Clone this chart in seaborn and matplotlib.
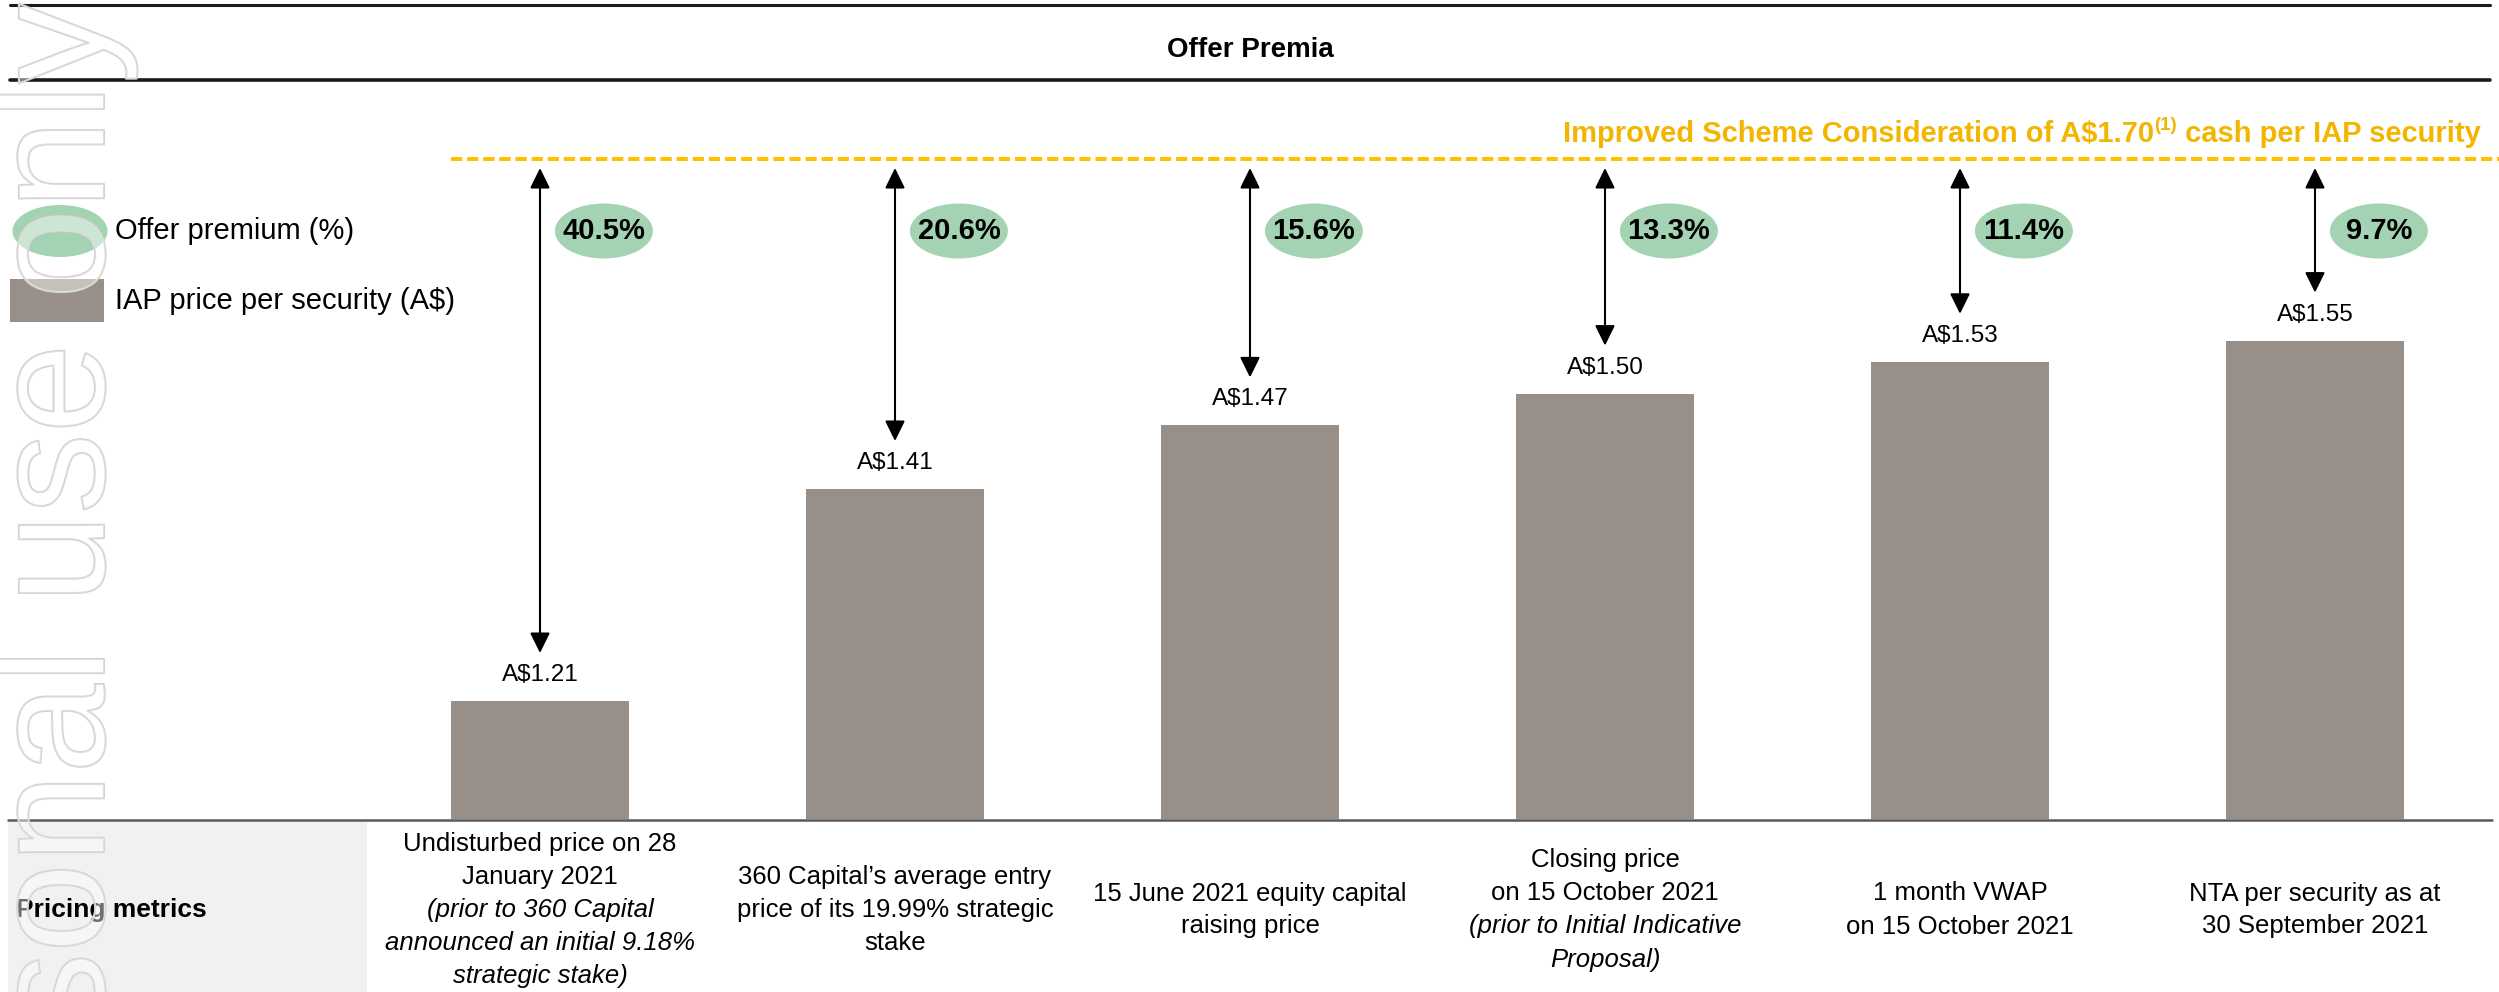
import matplotlib
matplotlib.use("Agg")
import matplotlib.pyplot as plt
import matplotlib.transforms as mtransforms
import matplotlib.patheffects as pe
from matplotlib.patches import Ellipse, Rectangle, FancyArrowPatch
from matplotlib.lines import Line2D
import seaborn as sns
import pandas as pd

# ---------------- data ----------------
metric_ids = ["undisturbed", "360_entry", "cap_raise", "closing", "vwap", "nta"]
prices = [1.21, 1.41, 1.47, 1.50, 1.53, 1.55]
price_labels = ["A$1.21", "A$1.41", "A$1.47", "A$1.50", "A$1.53", "A$1.55"]
premia_labels = ["40.5%", "20.6%", "15.6%", "13.3%", "11.4%", "9.7%"]
metric_text = [
    [("Undisturbed price on 28", "normal"), ("January 2021", "normal"),
     ("(prior to 360 Capital", "italic"), ("announced an initial 9.18%", "italic"),
     ("strategic stake)", "italic")],
    [("360 Capital\u2019s average entry", "normal"), ("price of its 19.99% strategic", "normal"),
     ("stake", "normal")],
    [("15 June 2021 equity capital", "normal"), ("raising price", "normal")],
    [("Closing price", "normal"), ("on 15 October 2021", "normal"),
     ("(prior to Initial Indicative", "italic"), ("Proposal)", "italic")],
    [("1 month VWAP", "normal"), ("on 15 October 2021", "normal")],
    [("NTA per security as at", "normal"), ("30 September 2021", "normal")],
]
title_text = "Offer Premia"
offer_main = "Improved Scheme Consideration of A$1.70"
offer_sup = "(1)"
offer_tail = " cash per IAP security"
legend_labels = ["Offer premium (%)", "IAP price per security (A$)"]
row_header = "Pricing metrics"
watermark = "For personal use only"

# ---------------- style ----------------
W, H, DPI = 2499, 992, 100
BAR = "#978F88"
GREEN = "#A3D3B2"
GOLD_LINE = "#FFC000"
GOLD_TEXT = "#F2B500"
PT = 72.0 / DPI  # px -> pt

sns.set_theme(style="white")
plt.rcParams["font.family"] = ["Liberation Sans", "DejaVu Sans"]

fig = plt.figure(figsize=(W / DPI, H / DPI), dpi=DPI)
fig.patch.set_facecolor("white")

def fy(px):
    return 1 - px / H

def fx(px):
    return px / W

BASE_PX, TOP_PX = 819, 80
ax = fig.add_axes([0, fy(BASE_PX), 1, (BASE_PX - TOP_PX) / H])
df = pd.DataFrame({"metric": metric_ids, "price": prices})
sns.barplot(data=df, x="metric", y="price", color=BAR, saturation=1, width=0.5,
            errorbar=None, edgecolor="none", ax=ax)
X0, DX = 540.0, 355.0
ax.set_xlim(-X0 / DX, (W - X0) / DX)
y0 = 1.0987
ax.set_ylim(y0, y0 + (BASE_PX - TOP_PX) / 1060.0)
ax.axis("off")
ylo, yhi = ax.get_ylim()
span_px = BASE_PX - TOP_PX
blend = mtransforms.blended_transform_factory(ax.transData, ax.transAxes)

LINE_PX = 159
line_frac = (BASE_PX - LINE_PX) / span_px
line_y = ylo + line_frac * (yhi - ylo)
ax.add_line(Line2D([(451 - X0) / DX, ax.get_xlim()[1]], [line_y, line_y],
                   color=GOLD_LINE, lw=2.9, linestyle=(0, (2.8, 1.2)), clip_on=False))

ELL_PX = 231
ell_frac = (BASE_PX - ELL_PX) / span_px
for i, (p, lab, prem) in enumerate(zip(prices, price_labels, premia_labels)):
    ax.annotate(lab, xy=(i, p), xytext=(0, 26 * PT), textcoords="offset points",
                ha="center", va="center", fontsize=17.5, color="black")
    arr = FancyArrowPatch((i, line_y), (i, p), arrowstyle="<|-|>,head_length=0.65,head_width=0.32",
                          mutation_scale=19, lw=1.5, color="black",
                          shrinkA=9 * PT, shrinkB=48 * PT)
    ax.add_patch(arr)
    ax.add_patch(Ellipse((i + 0.18, ell_frac), width=98 / DX, height=55 / span_px,
                         transform=blend, facecolor=GREEN, edgecolor="none"))
    ax.text(i + 0.18, ell_frac, prem, transform=blend, ha="center", va="center",
            fontsize=21, fontweight="bold", color="black")

# ---------------- header lines & title ----------------
fig.add_artist(Line2D([fx(10), fx(2490)], [fy(5), fy(5)], color="#1a1a1a", lw=2.2))
fig.add_artist(Line2D([fx(10), fx(2490)], [fy(80), fy(80)], color="#1a1a1a", lw=2.6))
fig.text(fx(1250), fy(50), title_text, ha="center", va="center", fontsize=20,
         fontweight="bold", color="black")

# offer text (right aligned, with superscript)
fig.canvas.draw()
r = fig.canvas.get_renderer()
t_tail = fig.text(fx(2481), fy(134), offer_tail, ha="right", va="center", fontsize=21,
                  fontweight="bold", color=GOLD_TEXT)
bb = t_tail.get_window_extent(r)
t_sup = fig.text(bb.x0 / W, fy(125), offer_sup, ha="right", va="center", fontsize=13.5,
                 fontweight="bold", color=GOLD_TEXT)
bb2 = t_sup.get_window_extent(r)
fig.text(bb2.x0 / W, fy(134), offer_main, ha="right", va="center", fontsize=21,
         fontweight="bold", color=GOLD_TEXT)

# ---------------- legend ----------------
fig.add_artist(Ellipse((fx(60), fy(231)), width=95 / W, height=52 / H,
                       transform=fig.transFigure, facecolor=GREEN, edgecolor="none"))
fig.add_artist(Rectangle((fx(10), fy(322)), 94 / W, 43 / H, transform=fig.transFigure,
                         facecolor=BAR, edgecolor="none"))
fig.text(fx(115), fy(231), legend_labels[0], ha="left", va="center", fontsize=21, color="black")
fig.text(fx(115), fy(301), legend_labels[1], ha="left", va="center", fontsize=21, color="black")

# ---------------- bottom table ----------------
fig.add_artist(Rectangle((fx(8), 0), 359 / W, fy(822), transform=fig.transFigure,
                         facecolor="#F1F1F1", edgecolor="none"))
fig.add_artist(Line2D([fx(8), fx(2492)], [fy(820), fy(820)], color="#595959", lw=1.8))
fig.text(fx(16), fy(910), row_header, ha="left", va="center", fontsize=19,
         fontweight="bold", color="black")
LS = 33.0
bt = mtransforms.blended_transform_factory(ax.transData, fig.transFigure)
for i, lines in enumerate(metric_text):
    n = len(lines)
    for k, (s, style) in enumerate(lines):
        ypx = 910 + (k - (n - 1) / 2) * LS
        ax.text(i, fy(ypx), s, transform=bt, ha="center", va="center",
                fontsize=18.5, fontstyle=style, color="black")

# ---------------- watermark ----------------
fig.text(fx(104), fy(3), watermark, rotation=90, rotation_mode="anchor", ha="right",
         va="baseline", fontsize=116, color=(1, 1, 1, 0.25), zorder=50,
         path_effects=[pe.Stroke(linewidth=1.5, foreground=(0.83, 0.83, 0.83, 1.0)), pe.Normal()])

fig.savefig("out.png", dpi=DPI, facecolor="white")
